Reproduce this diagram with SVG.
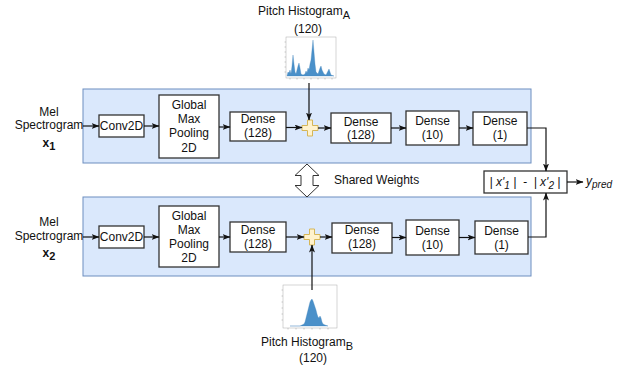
<svg xmlns="http://www.w3.org/2000/svg" width="630" height="367" viewBox="0 0 630 367">
  <style>
    text { font-family: "Liberation Sans", Arial, sans-serif; font-size: 12px; fill: #111; }
    .c { text-anchor: middle; }
    .group { fill: #dae8fc; stroke: #6c8ebf; stroke-width: 1; }
    .box { fill: #ffffff; stroke: #333333; stroke-width: 1.3; }
    .plus { fill: #fff2cc; stroke: #d6b656; stroke-width: 1; }
    .edge { fill: none; stroke: #111; stroke-width: 1.2; marker-end: url(#arr); }
    .frame { fill: #ffffff; stroke: #aaa; stroke-width: 0.5; }
    .bars { fill: #4a90c9; stroke: #3a7fb8; stroke-width: 0.3; }
    .tick { stroke: #999; stroke-width: 0.5; }
    .it { font-style: italic; }
  </style>
  <defs>
    <marker id="arr" viewBox="0 0 8 6" refX="7.5" refY="3" markerWidth="8" markerHeight="6" markerUnits="userSpaceOnUse" orient="auto">
      <path d="M0,0 L8,3 L0,6 L2,3 z" fill="#111"/>
    </marker>
  </defs>

  <!-- branch containers -->
  <rect id="branch1" class="group" x="83" y="89" width="448" height="74"/>
  <rect id="branch2" class="group" x="83" y="197" width="448" height="79"/>

  <!-- inputs -->
  <g id="input1">
    <text class="c" x="49" y="116">Mel</text>
    <text class="c" x="49" y="129">Spectrogram</text>
    <text class="c" x="49" y="147" font-weight="bold" font-size="14">x<tspan font-size="11" dy="3">1</tspan></text>
  </g>
  <g id="input2">
    <text class="c" x="49" y="226">Mel</text>
    <text class="c" x="49" y="240">Spectrogram</text>
    <text class="c" x="49" y="257" font-weight="bold" font-size="14">x<tspan font-size="11" dy="3">2</tspan></text>
  </g>

  <!-- top branch layers -->
  <g id="conv1">
    <rect class="box" x="99" y="115" width="45" height="22"/>
    <text class="c" x="121.5" y="130">Conv2D</text>
  </g>
  <g id="gmp1">
    <rect class="box" x="159" y="95" width="60" height="63"/>
    <text class="c" x="189" y="109">Global</text>
    <text class="c" x="189" y="123">Max</text>
    <text class="c" x="189" y="137">Pooling</text>
    <text class="c" x="189" y="152">2D</text>
  </g>
  <g id="dense1a">
    <rect class="box" x="230" y="112" width="56" height="29"/>
    <text class="c" x="258" y="123">Dense</text>
    <text class="c" x="258" y="137">(128)</text>
  </g>
  <g id="add1">
    <path class="plus" d="M307.5,120 h5 v5.5 h5.5 v5 h-5.5 v5.5 h-5 v-5.5 h-5.5 v-5 h5.5 z"/>
  </g>
  <g id="dense1b">
    <rect class="box" x="331" y="113" width="60" height="30"/>
    <text class="c" x="361" y="126">Dense</text>
    <text class="c" x="361" y="139">(128)</text>
  </g>
  <g id="dense1c">
    <rect class="box" x="406" y="111" width="53" height="34"/>
    <text class="c" x="432.5" y="125">Dense</text>
    <text class="c" x="432.5" y="139">(10)</text>
  </g>
  <g id="dense1d">
    <rect class="box" x="473" y="112" width="54" height="33"/>
    <text class="c" x="500" y="125">Dense</text>
    <text class="c" x="500" y="139">(1)</text>
  </g>

  <!-- bottom branch layers -->
  <g id="conv2">
    <rect class="box" x="99" y="226" width="45" height="22"/>
    <text class="c" x="121.5" y="241">Conv2D</text>
  </g>
  <g id="gmp2">
    <rect class="box" x="159" y="206" width="60" height="61"/>
    <text class="c" x="189" y="220">Global</text>
    <text class="c" x="189" y="234">Max</text>
    <text class="c" x="189" y="248">Pooling</text>
    <text class="c" x="189" y="262">2D</text>
  </g>
  <g id="dense2a">
    <rect class="box" x="230" y="222" width="56" height="30"/>
    <text class="c" x="258" y="234">Dense</text>
    <text class="c" x="258" y="248">(128)</text>
  </g>
  <g id="add2">
    <path class="plus" d="M309.5,229 h5 v5.5 h5.5 v5 h-5.5 v5.5 h-5 v-5.5 h-5.5 v-5 h5.5 z"/>
  </g>
  <g id="dense2b">
    <rect class="box" x="332" y="223" width="60" height="30"/>
    <text class="c" x="362" y="234">Dense</text>
    <text class="c" x="362" y="248">(128)</text>
  </g>
  <g id="dense2c">
    <rect class="box" x="406" y="220" width="53" height="35"/>
    <text class="c" x="432.5" y="235">Dense</text>
    <text class="c" x="432.5" y="249">(10)</text>
  </g>
  <g id="dense2d">
    <rect class="box" x="475" y="221" width="53" height="33"/>
    <text class="c" x="501.5" y="235">Dense</text>
    <text class="c" x="501.5" y="249">(1)</text>
  </g>

  <!-- shared weights -->
  <g id="shared">
    <path d="M307,164 L295,175.5 L301,175.5 L301,185.5 L295,185.5 L307,197 L319,185.5 L313,185.5 L313,175.5 L319,175.5 Z" fill="#ffffff" stroke="#333" stroke-width="1"/>
    <text x="334" y="184">Shared Weights</text>
  </g>

  <!-- distance -->
  <g id="distance">
    <rect class="box" x="484" y="171" width="83" height="22"/>
    <text class="c it" x="525" y="186" xml:space="preserve">| x'<tspan font-size="10" dy="3">1</tspan><tspan dy="-3"> |  -  | x'</tspan><tspan font-size="10" dy="3">2</tspan><tspan dy="-3"> |</tspan></text>
  </g>
  <g id="output">
    <text class="it" x="586" y="185">y<tspan font-size="10" dy="3">pred</tspan></text>
  </g>

  <!-- pitch histogram A -->
  <g id="histA">
    <text class="c" x="304" y="15">Pitch Histogram<tspan font-size="11" dy="4">A</tspan></text>
    <text class="c" x="308" y="33">(120)</text>
    <rect class="frame" x="286" y="37" width="50" height="41"/>
    <path class="tick" d="M286,42 h-1.5 M286,47 h-1.5 M286,52 h-1.5 M286,57 h-1.5 M286,62 h-1.5 M286,67 h-1.5 M286,72 h-1.5 M290,78 v1.5 M297,78 v1.5 M304,78 v1.5 M311,78 v1.5 M318,78 v1.5 M325,78 v1.5 M332,78 v1.5"/>
    <path class="bars" d="M287,76 L288,72 L289,73 L290,70 L291,74 L292,66 L293,55 L294,64 L295,72 L296,74 L297,70 L298,66 L299,63 L300,68 L301,74 L303,75 L305,74 L306,71 L307,73 L308,68 L309,70 L310,64 L311,60 L312,50 L313,40 L314,52 L315,64 L316,72 L318,74 L319,71 L320,68 L321,66 L322,70 L323,72 L324,74 L326,75 L327,73 L328,71 L329,69 L330,72 L331,75 L334,76 Z"/>
  </g>

  <!-- pitch histogram B -->
  <g id="histB">
    <rect class="frame" x="283" y="285" width="54" height="43"/>
    <path class="tick" d="M283,290 h-1.5 M283,296 h-1.5 M283,302 h-1.5 M283,308 h-1.5 M283,314 h-1.5 M283,320 h-1.5 M288,328 v1.5 M296,328 v1.5 M304,328 v1.5 M312,328 v1.5 M320,328 v1.5 M328,328 v1.5"/>
    <path class="bars" d="M290,326 L300,326 L302,325 L304,324 L305,322 L306,318 L307,314 L308,310 L309,306 L310,302 L311,300 L312,299 L313,301 L314,304 L315,307 L316,310 L317,314 L318,317 L319,318 L320,316 L321,318 L322,322 L323,324 L325,325 L328,326 Z"/>
    <text class="c" x="307" y="346">Pitch Histogram<tspan font-size="11" dy="4">B</tspan></text>
    <text class="c" x="313" y="362">(120)</text>
  </g>

  <!-- connectors -->
  <g id="edges">
    <path class="edge" d="M83,126 L99,126"/>
    <path class="edge" d="M144,126 L159,126"/>
    <path class="edge" d="M219,127 L230,127"/>
    <path class="edge" d="M286,127.5 L302,127.5"/>
    <path class="edge" d="M318,128 L331,128"/>
    <path class="edge" d="M391,128 L406,128"/>
    <path class="edge" d="M459,128 L473,128"/>
    <path class="edge" d="M309,83 L309,120"/>
    <path class="edge" d="M527,128 L546,128 L546,171"/>

    <path class="edge" d="M83,237 L99,237"/>
    <path class="edge" d="M144,237 L159,237"/>
    <path class="edge" d="M219,237 L230,237"/>
    <path class="edge" d="M286,237 L304,237"/>
    <path class="edge" d="M320,237 L332,237"/>
    <path class="edge" d="M392,237.5 L406,237.5"/>
    <path class="edge" d="M459,237.5 L475,237.5"/>
    <path class="edge" d="M312,290 L312,245"/>
    <path class="edge" d="M528,237 L546,237 L546,193"/>

    <path class="edge" d="M567,182 L583,182"/>
  </g>
</svg>
